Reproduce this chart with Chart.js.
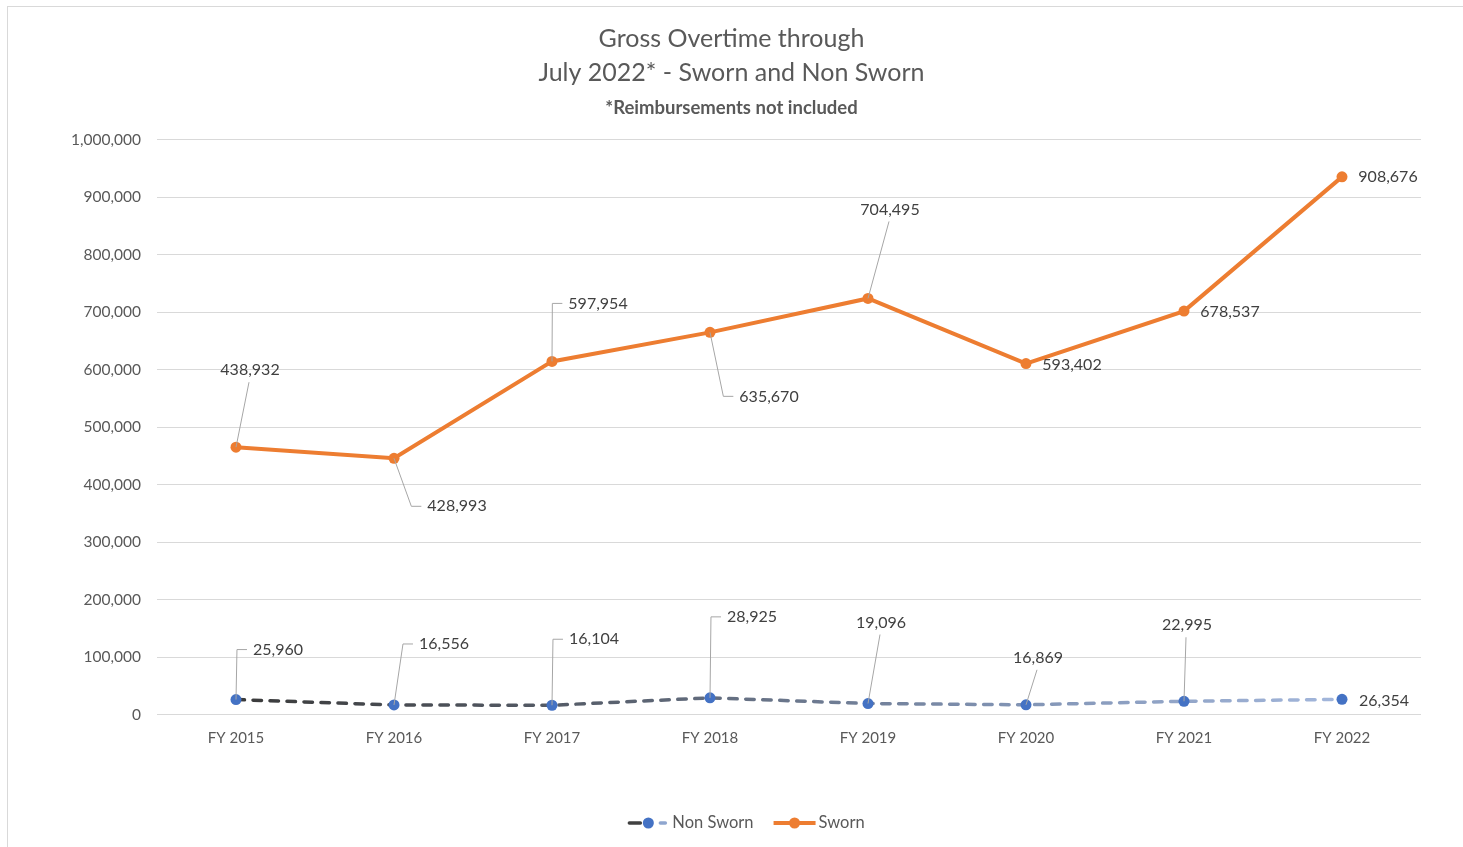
<!DOCTYPE html>
<html><head><meta charset="utf-8">
<script src="https://cdn.jsdelivr.net/npm/chart.js@4.4.1/dist/chart.umd.min.js"></script>
<style>
html,body{margin:0;padding:0;background:#fff;overflow:hidden;}
#frame{position:absolute;left:7px;top:6px;width:1500px;height:900px;border-left:1px solid #d9d9d9;border-top:1px solid #d9d9d9;}
#wrap{position:absolute;left:0;top:0;width:1463px;height:847px;}
</style></head><body>
<div id="frame"></div>
<div id="wrap"><canvas id="c"></canvas></div>
<script>
// ---- data ----
const categories = ['FY 2015','FY 2016','FY 2017','FY 2018','FY 2019','FY 2020','FY 2021','FY 2022'];
const nonSworn = [25960, 16556, 16104, 28925, 19096, 16869, 22995, 26354];
const sworn = [438932, 428993, 597954, 635670, 704495, 593402, 678537, 908676];
const yMin = 0, yMax = 1000000, yStep = 100000;
const titleLines = ['Gross Overtime through', 'July 2022* - Sworn and Non Sworn'];
const subtitleText = '*Reimbursements not included';
const seriesNames = ['Non Sworn', 'Sworn'];

// ---- label placement (offset of label centre from its point, px; leader type) ----
const nonSwornLabelPlace = [[42,-50,'elbow'],[50,-61,'elbow'],[42,-66,'elbow'],[42,-81,'elbow'],[13,-81,'straight'],[12,-47,'straight'],[3,-76,'straight'],[42,1,'none']];
const swornLabelPlace = [[14,-77,'straight'],[63,48,'elbow'],[46,-58,'elbow'],[59,64,'elbow'],[22,-89,'straight'],[46,1,'none'],[46,1,'none'],[46,0,'none']];

const FONT = 'Lato, "Open Sans", sans-serif';
const fmt = v => Number(v).toLocaleString('en-US');

function nsGradient(chart){
  const xs = chart.scales.x;
  const x0 = xs.getPixelForValue(0), x1 = xs.getPixelForValue(categories.length-1);
  const g = chart.ctx.createLinearGradient(x0,0,x1,0);
  g.addColorStop(0,'#3a3a3a'); g.addColorStop(0.4,'#5f6878'); g.addColorStop(0.7,'#8193b3'); g.addColorStop(1,'#a3b7dc');
  return g;
}

const decorPlugin = {
  id:'decor',
  afterDraw(chart){
    const c = chart.ctx;
    const W = chart.width;
    c.save();
    // titles
    c.fillStyle = '#595959';
    c.textAlign = 'center'; c.textBaseline = 'middle';
    c.font = '25px ' + FONT;
    c.fillText(titleLines[0], W/2, 39);
    c.fillText(titleLines[1], W/2, 73);
    c.font = 'bold 18.5px ' + FONT;
    c.fillText(subtitleText, W/2, 108);

    // data labels
    const drawLabels = (dsIndex, values, place) => {
      const meta = chart.getDatasetMeta(dsIndex);
      meta.data.forEach((pt, i) => {
        const [dx, dy, type] = place[i];
        const txt = fmt(values[i]);
        c.font = '16px ' + FONT;
        const w = c.measureText(txt).width;
        const cx = pt.x + dx, cy = pt.y + dy;
        const left = cx - w/2;
        c.strokeStyle = '#a6a6a6'; c.lineWidth = 1;
        if (type === 'elbow') {
          c.beginPath(); c.moveTo(pt.x, pt.y); c.lineTo(left - 16, cy); c.lineTo(left - 6, cy); c.stroke();
        } else if (type === 'straight') {
          c.beginPath(); c.moveTo(pt.x, pt.y); c.lineTo(cx - 1, dy < 0 ? cy + 12 : cy - 12); c.stroke();
        }
        c.fillStyle = '#404040'; c.textAlign = 'center'; c.textBaseline = 'middle';
        c.fillText(txt, cx, cy);
      });
    };
    drawLabels(0, nonSworn, nonSwornLabelPlace);
    drawLabels(1, sworn, swornLabelPlace);

    // legend
    c.font = '16.5px ' + FONT;
    const t0 = c.measureText(seriesNames[0]).width, t1 = c.measureText(seriesNames[1]).width;
    const sample = 42, gap = 3, between = 20;
    const total = sample + gap + t0 + between + sample + gap + t1;
    let x = 746 - total/2; const ly = 823;
    c.lineCap = 'round'; c.lineWidth = 3.5;
    c.strokeStyle = '#404040'; c.beginPath(); c.moveTo(x+2, ly); c.lineTo(x+13, ly); c.stroke();
    c.strokeStyle = '#8fa6cf'; c.beginPath(); c.moveTo(x+33, ly); c.lineTo(x+38, ly); c.stroke();
    c.fillStyle = '#4472C4'; c.beginPath(); c.arc(x+21, ly, 5.5, 0, Math.PI*2); c.fill();
    c.fillStyle = '#595959'; c.textAlign = 'left'; c.textBaseline = 'middle';
    c.fillText(seriesNames[0], x + sample + gap, ly);
    x += sample + gap + t0 + between;
    c.lineWidth = 4; c.lineCap = 'butt';
    c.strokeStyle = '#ED7D31'; c.beginPath(); c.moveTo(x, ly); c.lineTo(x+sample, ly); c.stroke();
    c.fillStyle = '#ED7D31'; c.beginPath(); c.arc(x+21, ly, 5.5, 0, Math.PI*2); c.fill();
    c.fillStyle = '#595959';
    c.fillText(seriesNames[1], x + sample + gap, ly);
    c.restore();
  }
};

new Chart(document.getElementById('c'), {
  type: 'line',
  data: {
    labels: categories,
    datasets: [
      {
        label: seriesNames[0], data: nonSworn,
        borderColor: ctx => ctx.chart.chartArea ? nsGradient(ctx.chart) : '#404040',
        borderWidth: 3.5, borderDash: [8.5, 8.5], borderCapStyle: 'round',
        pointRadius: 5.5, pointBackgroundColor: '#4472C4', pointBorderColor: '#4472C4', pointBorderWidth: 0,
        tension: 0, fill: false
      },
      {
        label: seriesNames[1], data: sworn,
        borderColor: '#ED7D31', borderWidth: 4,
        pointRadius: 5.5, pointBackgroundColor: '#ED7D31', pointBorderColor: '#ED7D31', pointBorderWidth: 0,
        tension: 0, fill: false
      }
    ]
  },
  options: {
    responsive: true, maintainAspectRatio: false, animation: false,
    events: [],
    layout: { padding: { top: 139.5, left: 0, right: 42, bottom: 92.5 } },
    plugins: { legend: { display: false }, tooltip: { enabled: false }, title: { display: false } },
    scales: {
      x: {
        offset: true,
        grid: { display: false, drawTicks: false },
        border: { display: false },
        ticks: { color: '#595959', font: { family: FONT, size: 15 }, padding: 15, maxRotation: 0 },
        afterFit: s => { s.height = 40; }
      },
      y: {
        stacked: true, min: yMin, max: yMax,
        grid: { color: '#d9d9d9', lineWidth: 1, drawTicks: false },
        border: { display: false },
        ticks: { stepSize: yStep, color: '#595959', font: { family: FONT, size: 15.5 }, padding: 16, callback: v => fmt(v) },
        afterFit: s => { s.width = 157; }
      }
    }
  },
  plugins: [decorPlugin]
});
</script>
</body></html>
